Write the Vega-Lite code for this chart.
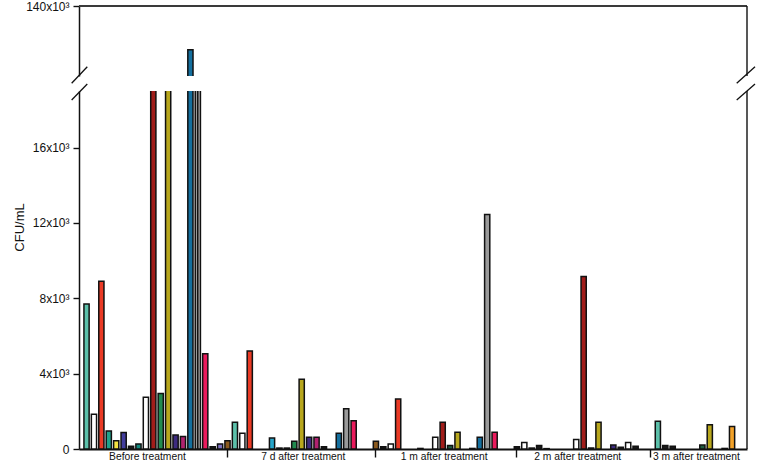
{
  "$schema": "https://vega.github.io/schema/vega-lite/v6.json",
  "padding": {"left": 13, "top": 0, "right": 2, "bottom": 0},
  "background": "white",
  "datasets": {
    "bars": [
      {"slot": 1, "period": "Before treatment", "taxon": "B", "cfu": 7700},
      {"slot": 2, "period": "Before treatment", "taxon": "C", "cfu": 1850},
      {"slot": 3, "period": "Before treatment", "taxon": "D", "cfu": 8900},
      {"slot": 4, "period": "Before treatment", "taxon": "E", "cfu": 950},
      {"slot": 5, "period": "Before treatment", "taxon": "F", "cfu": 440},
      {"slot": 6, "period": "Before treatment", "taxon": "G", "cfu": 880},
      {"slot": 7, "period": "Before treatment", "taxon": "H", "cfu": 150},
      {"slot": 8, "period": "Before treatment", "taxon": "I", "cfu": 270},
      {"slot": 9, "period": "Before treatment", "taxon": "C", "cfu": 2750},
      {"slot": 10, "period": "Before treatment", "taxon": "J", "cfu": 40000},
      {"slot": 11, "period": "Before treatment", "taxon": "K", "cfu": 2950},
      {"slot": 12, "period": "Before treatment", "taxon": "L", "cfu": 40000},
      {"slot": 13, "period": "Before treatment", "taxon": "M", "cfu": 740},
      {"slot": 14, "period": "Before treatment", "taxon": "N", "cfu": 660},
      {"slot": 15, "period": "Before treatment", "taxon": "O", "cfu": 115000},
      {"slot": 16, "period": "Before treatment", "taxon": "P", "cfu": 40000, "pair": "a"},
      {"slot": 16, "period": "Before treatment", "taxon": "Q", "cfu": 40000, "pair": "b"},
      {"slot": 17, "period": "Before treatment", "taxon": "R", "cfu": 5050},
      {"slot": 18, "period": "Before treatment", "taxon": "H", "cfu": 120},
      {"slot": 19, "period": "Before treatment", "taxon": "S", "cfu": 270},
      {"slot": 20, "period": "7 d after treatment", "taxon": "A", "cfu": 440},
      {"slot": 21, "period": "7 d after treatment", "taxon": "B", "cfu": 1420},
      {"slot": 22, "period": "7 d after treatment", "taxon": "C", "cfu": 830},
      {"slot": 23, "period": "7 d after treatment", "taxon": "D", "cfu": 5200},
      {"slot": 26, "period": "7 d after treatment", "taxon": "T", "cfu": 580},
      {"slot": 27, "period": "7 d after treatment", "taxon": "H", "cfu": 50},
      {"slot": 28, "period": "7 d after treatment", "taxon": "I", "cfu": 50},
      {"slot": 29, "period": "7 d after treatment", "taxon": "K", "cfu": 410},
      {"slot": 30, "period": "7 d after treatment", "taxon": "L", "cfu": 3700},
      {"slot": 31, "period": "7 d after treatment", "taxon": "M", "cfu": 620},
      {"slot": 32, "period": "7 d after treatment", "taxon": "N", "cfu": 620},
      {"slot": 33, "period": "7 d after treatment", "taxon": "H", "cfu": 120},
      {"slot": 35, "period": "7 d after treatment", "taxon": "O", "cfu": 830},
      {"slot": 36, "period": "7 d after treatment", "taxon": "P", "cfu": 2130},
      {"slot": 37, "period": "7 d after treatment", "taxon": "R", "cfu": 1500},
      {"slot": 40, "period": "1 m after treatment", "taxon": "A", "cfu": 410},
      {"slot": 41, "period": "1 m after treatment", "taxon": "H", "cfu": 120},
      {"slot": 42, "period": "1 m after treatment", "taxon": "C", "cfu": 270},
      {"slot": 43, "period": "1 m after treatment", "taxon": "D", "cfu": 2650},
      {"slot": 46, "period": "1 m after treatment", "taxon": "G", "cfu": 30},
      {"slot": 48, "period": "1 m after treatment", "taxon": "C", "cfu": 620},
      {"slot": 49, "period": "1 m after treatment", "taxon": "J", "cfu": 1420},
      {"slot": 50, "period": "1 m after treatment", "taxon": "V", "cfu": 180},
      {"slot": 51, "period": "1 m after treatment", "taxon": "L", "cfu": 890},
      {"slot": 53, "period": "1 m after treatment", "taxon": "H", "cfu": 30},
      {"slot": 54, "period": "1 m after treatment", "taxon": "O", "cfu": 620},
      {"slot": 55, "period": "1 m after treatment", "taxon": "P", "cfu": 12450},
      {"slot": 56, "period": "1 m after treatment", "taxon": "R", "cfu": 890},
      {"slot": 59, "period": "2 m after treatment", "taxon": "H", "cfu": 120},
      {"slot": 60, "period": "2 m after treatment", "taxon": "C", "cfu": 350},
      {"slot": 61, "period": "2 m after treatment", "taxon": "I", "cfu": 50},
      {"slot": 62, "period": "2 m after treatment", "taxon": "H", "cfu": 180},
      {"slot": 63, "period": "2 m after treatment", "taxon": "H", "cfu": 20},
      {"slot": 67, "period": "2 m after treatment", "taxon": "C", "cfu": 510},
      {"slot": 68, "period": "2 m after treatment", "taxon": "J", "cfu": 9150},
      {"slot": 69, "period": "2 m after treatment", "taxon": "V", "cfu": 50},
      {"slot": 70, "period": "2 m after treatment", "taxon": "L", "cfu": 1420},
      {"slot": 72, "period": "2 m after treatment", "taxon": "M", "cfu": 210},
      {"slot": 73, "period": "2 m after treatment", "taxon": "H", "cfu": 90},
      {"slot": 74, "period": "2 m after treatment", "taxon": "C", "cfu": 350},
      {"slot": 75, "period": "2 m after treatment", "taxon": "H", "cfu": 140},
      {"slot": 78, "period": "3 m after treatment", "taxon": "B", "cfu": 1470},
      {"slot": 79, "period": "3 m after treatment", "taxon": "H", "cfu": 180},
      {"slot": 80, "period": "3 m after treatment", "taxon": "H", "cfu": 140},
      {"slot": 84, "period": "3 m after treatment", "taxon": "V", "cfu": 210},
      {"slot": 85, "period": "3 m after treatment", "taxon": "L", "cfu": 1290},
      {"slot": 87, "period": "3 m after treatment", "taxon": "H", "cfu": 30},
      {"slot": 88, "period": "3 m after treatment", "taxon": "U", "cfu": 1200}
    ],
    "labels": [
      {"slot": 9, "label": "Before treatment"},
      {"slot": 30, "label": "7 d after treatment"},
      {"slot": 49, "label": "1 m after treatment"},
      {"slot": 67, "label": "2 m after treatment"},
      {"slot": 83, "label": "3 m after treatment"}
    ]
  },
  "bounds": "flush",
  "vconcat": [
    {
      "width": 668,
      "height": 70,
      "layer": [
        {
          "data": {"name": "bars"},
          "mark": {"type": "bar", "clip": true, "stroke": "#111", "strokeWidth": 1.5},
          "encoding": {
            "x": {"field": "slot", "type": "ordinal", "axis": null,
              "scale": {"domain": [1,2,3,4,5,6,7,8,9,10,11,12,13,14,15,16,17,18,19,20,21,22,23,24,25,26,27,28,29,30,31,32,33,34,35,36,37,38,39,40,41,42,43,44,45,46,47,48,49,50,51,52,53,54,55,56,57,58,59,60,61,62,63,64,65,66,67,68,69,70,71,72,73,74,75,76,77,78,79,80,81,82,83,84,85,86,87,88,89], "paddingInner": 0.3, "paddingOuter": 0.665}},
            "y": {"field": "cfu", "type": "quantitative", "title": null,
              "scale": {"domain": [100000, 140000], "nice": false, "zero": false},
              "axis": {"values": [140000], "labelExpr": "(datum.value/1000) + 'x10³'", "tickSize": 6, "labelPadding": 4}},
            "color": {"field": "taxon", "type": "nominal", "legend": null,
              "scale": {"domain": ["A","B","C","D","E","F","G","H","I","J","K","L","M","N","O","P","Q","R","S","T","U","V"],
                "range": ["#8c5a1e","#5cc0aa","#ffffff","#ea3a25","#1fa38c","#f5e342","#423d9e","#1a1a1a","#11897e","#a11d1a","#218a4f","#b8a71d","#3d2b80","#b0226f","#146f9e","#9a9a9a","#bdbdbd","#ea1a5c","#7f74c6","#27a5c9","#f2a22a","#1e5e40"]}}
          }
        },
        {
          "data": {"values": [{}]},
          "mark": {"type": "rule", "stroke": "#3a3a3a", "strokeWidth": 2},
          "encoding": {"y": {"datum": 140000, "type": "quantitative", "title": null}}
        },
        {
          "data": {"values": [{}]},
          "mark": {"type": "rule", "stroke": "#111", "strokeWidth": 1.4},
          "encoding": {"x": {"value": "width"}}
        }
      ]
    },
    {
      "width": 668,
      "height": 358,
      "layer": [
        {
          "layer": [
            {
              "data": {"name": "bars"},
              "transform": [{"filter": "!datum.pair"}],
              "mark": {"type": "bar", "clip": true, "stroke": "#111", "strokeWidth": 1.5},
              "encoding": {
                "x": {"field": "slot", "type": "ordinal", "title": null,
                  "scale": {"domain": [1,2,3,4,5,6,7,8,9,10,11,12,13,14,15,16,17,18,19,20,21,22,23,24,25,26,27,28,29,30,31,32,33,34,35,36,37,38,39,40,41,42,43,44,45,46,47,48,49,50,51,52,53,54,55,56,57,58,59,60,61,62,63,64,65,66,67,68,69,70,71,72,73,74,75,76,77,78,79,80,81,82,83,84,85,86,87,88,89], "paddingInner": 0.3, "paddingOuter": 0.665},
                  "axis": {"values": [20, 40, 59, 77], "labels": false, "tickSize": 8, "title": null, "domainWidth": 1.8}},
                "y": {"field": "cfu", "type": "quantitative", "title": "CFU/mL",
                  "scale": {"domain": [0, 19000], "nice": false},
                  "axis": {"values": [0, 4000, 8000, 12000, 16000], "labelExpr": "datum.value == 0 ? '0' : (datum.value/1000) + 'x10³'", "tickSize": 6, "labelPadding": 4, "titlePadding": 6, "titleY": 136}},
                "color": {"field": "taxon", "type": "nominal", "legend": null}
              }
            },
            {
              "data": {"name": "bars"},
              "transform": [{"filter": "datum.pair"}],
              "mark": {"type": "bar", "clip": true, "stroke": "#111", "strokeWidth": 1.5},
              "encoding": {
                "x": {"field": "slot", "type": "ordinal", "title": null},
                "xOffset": {"field": "pair", "type": "nominal"},
                "y": {"field": "cfu", "type": "quantitative", "title": "CFU/mL"},
                "color": {"field": "taxon", "type": "nominal", "legend": null}
              }
            },
            {
              "data": {"name": "labels"},
              "mark": {"type": "text", "baseline": "top", "dy": 3, "dx": 1.5, "fontSize": 10.3, "font": "Liberation Sans", "color": "#111"},
              "encoding": {
                "x": {"field": "slot", "type": "ordinal", "title": null},
                "y": {"datum": 0, "type": "quantitative", "title": "CFU/mL"},
                "text": {"field": "label"}
              }
            },
            {
              "data": {"values": [{}]},
              "mark": {"type": "rule", "stroke": "#111", "strokeWidth": 1.4},
              "encoding": {"x": {"value": "width"}}
            }
          ]
        },
        {
          "data": {"values": [{}]},
          "layer": [
            {"mark": {"type": "rule", "clip": false, "stroke": "#111", "strokeWidth": 1.3},
             "encoding": {"x": {"datum": -0.011, "type": "quantitative", "scale": {"domain": [0, 1]}, "axis": null}, "x2": {"datum": 0.0124},
               "y": {"datum": 19409, "type": "quantitative", "title": "CFU/mL"}, "y2": {"datum": 20290}}},
            {"mark": {"type": "rule", "clip": false, "stroke": "#111", "strokeWidth": 1.3},
             "encoding": {"x": {"datum": -0.011, "type": "quantitative", "scale": {"domain": [0, 1]}, "axis": null}, "x2": {"datum": 0.0124},
               "y": {"datum": 18522, "type": "quantitative", "title": "CFU/mL"}, "y2": {"datum": 19371}}},
            {"mark": {"type": "rule", "clip": false, "stroke": "#111", "strokeWidth": 1.3},
             "encoding": {"x": {"datum": 0.9846, "type": "quantitative", "scale": {"domain": [0, 1]}, "axis": null}, "x2": {"datum": 1.012},
               "y": {"datum": 19409, "type": "quantitative", "title": "CFU/mL"}, "y2": {"datum": 20290}}},
            {"mark": {"type": "rule", "clip": false, "stroke": "#111", "strokeWidth": 1.3},
             "encoding": {"x": {"datum": 0.9846, "type": "quantitative", "scale": {"domain": [0, 1]}, "axis": null}, "x2": {"datum": 1.012},
               "y": {"datum": 18522, "type": "quantitative", "title": "CFU/mL"}, "y2": {"datum": 19371}}}
          ]
        }
      ],
      "resolve": {"scale": {"x": "independent"}}
    }
  ],
  "spacing": 15,
  "config": {
    "view": {"stroke": null},
    "axis": {"grid": false, "domainColor": "#111", "tickColor": "#111", "labelColor": "#111", "titleColor": "#111",
      "labelFont": "Liberation Sans", "titleFont": "Liberation Sans", "labelFontSize": 12, "titleFontSize": 13,
      "titleFontWeight": "normal", "domainWidth": 1.5, "tickWidth": 1.4}
  }
}
